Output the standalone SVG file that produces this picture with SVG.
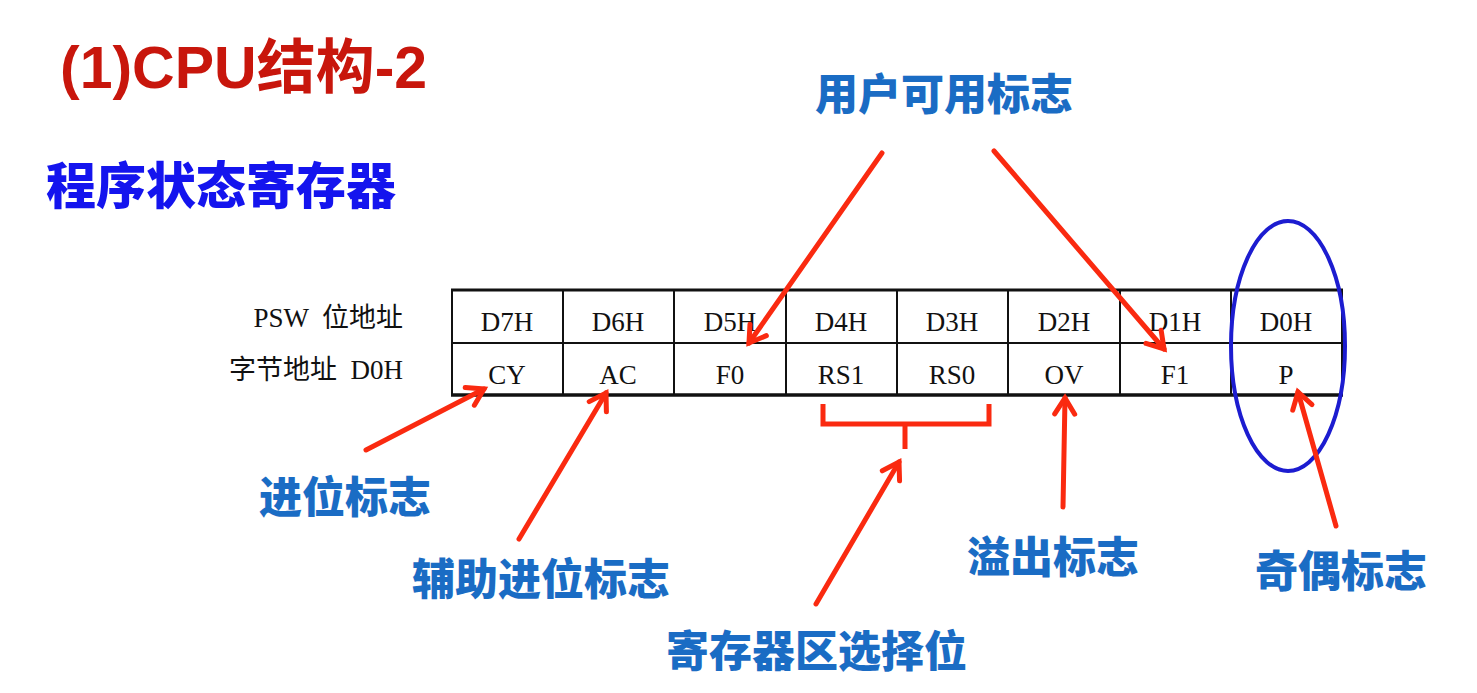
<svg xmlns="http://www.w3.org/2000/svg" width="1477" height="693" viewBox="0 0 1477 693">
<style>
.title{font-family:"Liberation Sans","Noto Sans CJK SC",sans-serif;font-weight:bold;}
.lbl{font-family:"Noto Sans CJK SC",sans-serif;font-weight:900;fill:#1a6cc4;font-size:43px;}
.cell{font-family:"Liberation Serif","Noto Sans CJK SC",serif;font-size:27px;fill:#111;text-anchor:middle;}
.side{font-family:"Liberation Serif","Noto Sans CJK SC",serif;font-size:27px;fill:#111;text-anchor:end;white-space:pre;}
.arr{stroke:#fa2a10;stroke-width:5;fill:none;stroke-linecap:round;marker-end:url(#ah);}
.grid{stroke:#111;fill:none;}
</style>
<defs>
<marker id="ah" markerUnits="userSpaceOnUse" markerWidth="40" markerHeight="40" refX="0" refY="0" viewBox="-20 -20 40 40" orient="auto">
<path d="M -16 -10 L 0 0 L -16 10" stroke="#fa2a10" stroke-width="5" fill="none" stroke-linecap="round" stroke-linejoin="miter"/>
</marker>
</defs>
<rect width="1477" height="693" fill="#ffffff"/>
<g id="title"><text class="title" x="60" y="88" font-size="59" fill="#c8160c">(1)CPU结构-2</text></g>
<g id="subtitle"><text x="46" y="204" font-size="50" fill="#1414ee" style="font-family:'Noto Sans CJK SC',sans-serif;font-weight:900">程序状态寄存器</text></g>
<g id="table">
<rect class="grid" x="452" y="290" width="890" height="105" stroke-width="2"/>
<line class="grid" x1="451" y1="290" x2="1343" y2="290" stroke-width="3"/>
<line class="grid" x1="451" y1="395" x2="1343" y2="395" stroke-width="3.5"/>
<line class="grid" x1="452" y1="343" x2="1342" y2="343" stroke-width="2"/>
<g stroke-width="2" class="grid">
<line x1="563" y1="290" x2="563" y2="395"/>
<line x1="674" y1="290" x2="674" y2="395"/>
<line x1="786" y1="290" x2="786" y2="395"/>
<line x1="897" y1="290" x2="897" y2="395"/>
<line x1="1008" y1="290" x2="1008" y2="395"/>
<line x1="1120" y1="290" x2="1120" y2="395"/>
<line x1="1231" y1="290" x2="1231" y2="395"/>
</g>
<text class="side" x="403" y="327" xml:space="preserve">PSW  位地址</text>
<text class="side" x="403" y="379" xml:space="preserve">字节地址  D0H</text>
<text class="cell" x="507" y="331">D7H</text>
<text class="cell" x="618" y="331">D6H</text>
<text class="cell" x="730" y="331">D5H</text>
<text class="cell" x="841" y="331">D4H</text>
<text class="cell" x="952" y="331">D3H</text>
<text class="cell" x="1064" y="331">D2H</text>
<text class="cell" x="1175" y="331">D1H</text>
<text class="cell" x="1286" y="331">D0H</text>
<text class="cell" x="507" y="384">CY</text>
<text class="cell" x="618" y="384">AC</text>
<text class="cell" x="730" y="384">F0</text>
<text class="cell" x="841" y="384">RS1</text>
<text class="cell" x="952" y="384">RS0</text>
<text class="cell" x="1064" y="384">OV</text>
<text class="cell" x="1175" y="384">F1</text>
<text class="cell" x="1286" y="384">P</text>
</g>
<g id="parity-ellipse"><ellipse cx="1288" cy="346" rx="57" ry="125" fill="none" stroke="#1c1cd0" stroke-width="4"/></g>
<g id="labels">
<text class="lbl" x="815" y="110">用户可用标志</text>
<text class="lbl" x="259" y="513">进位标志</text>
<text class="lbl" x="412" y="595">辅助进位标志</text>
<text class="lbl" x="666" y="667">寄存器区选择位</text>
<text class="lbl" x="967" y="573">溢出标志</text>
<text class="lbl" x="1255" y="587">奇偶标志</text>
</g>
<g id="connectors">
<line class="arr" x1="366" y1="450" x2="484" y2="389"/>
<line class="arr" x1="519" y1="539" x2="606" y2="393"/>
<line class="arr" x1="882" y1="153" x2="749" y2="343"/>
<line class="arr" x1="994" y1="151" x2="1164" y2="349"/>
<path d="M 823 404 L 823 424 L 989 424 L 989 404 M 905 424 L 905 449" stroke="#fa2a10" stroke-width="5" fill="none"/>
<line class="arr" x1="816" y1="604" x2="899" y2="462"/>
<line class="arr" x1="1063" y1="507" x2="1065" y2="398"/>
<line class="arr" x1="1336" y1="526" x2="1298" y2="392"/>
</g>
</svg>
